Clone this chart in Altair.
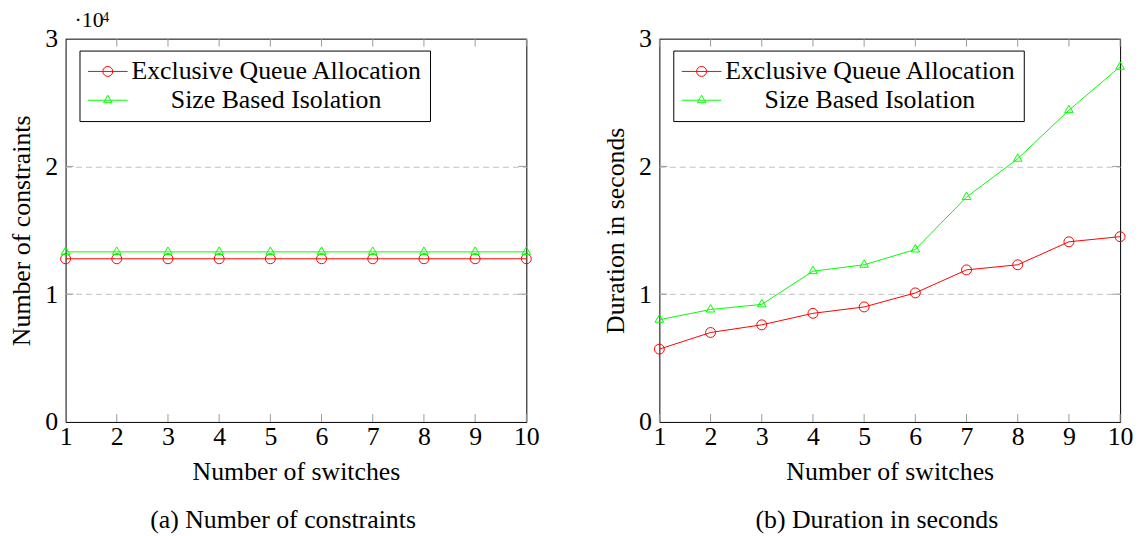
import altair as alt
import pandas as pd

# ---------------- data ----------------
switches = [1, 2, 3, 4, 5, 6, 7, 8, 9, 10]
series_names = ["Exclusive Queue Allocation", "Size Based Isolation"]
series_colors = ["#ff0000", "#00ff00"]

eqa_constraints = [12770, 12770, 12770, 12770, 12770, 12770, 12770, 12770, 12770, 12770]
sbi_constraints = [13310, 13310, 13310, 13310, 13310, 13310, 13310, 13310, 13310, 13310]

eqa_duration = [0.57, 0.70, 0.76, 0.85, 0.90, 1.01, 1.19, 1.23, 1.41, 1.45]
sbi_duration = [0.80, 0.88, 0.92, 1.18, 1.23, 1.35, 1.76, 2.06, 2.44, 2.78]

y_ticks_a = [0, 10000, 20000, 30000]
y_ticks_b = [0, 1, 2, 3]
inner_y_a = [10000, 20000]
inner_y_b = [1, 2]

x_title = "Number of switches"
y_titles = ["Number of constraints", "Duration in seconds"]
captions = ["(a) Number of constraints", "(b) Duration in seconds"]
exponent_base = "\u00b710"
exponent_power = "4"

# ---------------- style ----------------
FONT = "Liberation Serif"
FS = 26
W, H = 464, 386

TRI = "M0,-1L0.866,0.5L-0.866,0.5Z"
LEG_CIRC = "M-1,0L1,0M0.25,0A0.25,0.25,0,1,1,-0.25,0A0.25,0.25,0,1,1,0.25,0"
LEG_TRI = "M-1,0L1,0M0,-0.25L0.2165,0.125L-0.2165,0.125Z"


def make_df(a, b):
    rows = []
    for s, v in zip(switches, a):
        rows.append({"x": s, "y": v, "series": series_names[0]})
    for s, v in zip(switches, b):
        rows.append({"x": s, "y": v, "series": series_names[1]})
    return pd.DataFrame(rows)


def legend():
    return alt.Legend(
        title=None,
        orient="none",
        legendX=14,
        legendY=12,
        padding=8,
        fillColor="white",
        strokeColor="black",
        labelFont=FONT,
        labelFontSize=FS,
        labelColor="black",
        labelAlign="center",
        labelOffset=149,
        labelLimit=500,
        symbolSize=1600,
        symbolStrokeWidth=1,
        symbolFillColor="transparent",
        symbolOpacity=1,
        symbolType={"expr": "datum.value === '%s' ? '%s' : '%s'" % (series_names[0], LEG_CIRC, LEG_TRI)},
        symbolStrokeColor={"expr": "datum.value === '%s' ? '%s' : '%s'" % (series_names[0], series_colors[0], series_colors[1])},
        clipHeight=26,
        rowPadding=3,
    )


def panel(df, ymax, yticks, inner_y, label_expr, ytitle, caption, extra=None):
    xenc = alt.X(
        "x:Q",
        scale=alt.Scale(domain=[1, 10], nice=False, zero=False),
        axis=alt.Axis(
            values=switches, format="d", labelFont=FONT, labelFontSize=FS, labelColor="black",
            labelPadding=2, tickSize=0, domain=False, grid=False, labelFlush=False,
            title=x_title, titleFont=FONT, titleFontSize=FS, titleFontWeight="normal",
            titleColor="black", titlePadding=9,
        ),
    )
    yenc = alt.Y(
        "y:Q",
        scale=alt.Scale(domain=[0, ymax], nice=False, zero=True),
        axis=alt.Axis(
            values=yticks, labelExpr=label_expr, labelFont=FONT, labelFontSize=FS,
            labelColor="black", labelPadding=8, tickSize=0, domain=False,
            grid=True, gridDash=[6, 4], gridColor="#c0c0c0", gridWidth=1,
            gridOpacity={"condition": {"test": "datum.value <= 0 || datum.value >= %s" % ymax, "value": 0}, "value": 1},
            title=ytitle, titleFont=FONT, titleFontSize=FS, titleFontWeight="normal",
            titleColor="black", titlePadding=10,
        ),
    )
    cscale = alt.Scale(domain=series_names, range=series_colors)
    color = alt.Color("series:N", scale=cscale, legend=legend())
    lines = alt.Chart(df).mark_line(strokeWidth=1).encode(x=xenc, y=yenc, color=color)
    circ = alt.Chart(df).transform_filter(alt.datum.series == series_names[0]).mark_point(
        shape="circle", filled=False, size=100, strokeWidth=1, opacity=1
    ).encode(x="x:Q", y="y:Q", color=alt.Color("series:N"))
    tri = alt.Chart(df).transform_filter(alt.datum.series == series_names[1]).mark_point(
        shape=TRI, filled=False, size=100, strokeWidth=1, opacity=1
    ).encode(x="x:Q", y="y:Q", color=alt.Color("series:N"))
    tdf = pd.DataFrame({"x": switches})
    ydf = pd.DataFrame({"y": inner_y})
    tick_col = "#9a9a9a"
    top_t = alt.Chart(tdf).mark_rule(color=tick_col, strokeWidth=1).encode(x="x:Q", y=alt.value(0), y2=alt.value(8))
    bot_t = alt.Chart(tdf).mark_rule(color=tick_col, strokeWidth=1).encode(x="x:Q", y=alt.value(H - 8), y2=alt.value(H))
    lef_t = alt.Chart(ydf).mark_rule(color=tick_col, strokeWidth=1).encode(y="y:Q", x=alt.value(0), x2=alt.value(8))
    rig_t = alt.Chart(ydf).mark_rule(color=tick_col, strokeWidth=1).encode(y="y:Q", x=alt.value(W - 8), x2=alt.value(W))
    layers = [top_t, bot_t, lef_t, rig_t, lines, circ, tri]
    if extra:
        layers += extra
    return alt.layer(*layers).properties(
        width=W, height=H,
        title=alt.TitleParams(text=caption, orient="bottom", anchor="middle", font=FONT, fontSize=FS,
                              fontWeight="normal", color="black", offset=23, dx=-13),
    )


exp_df = pd.DataFrame({"b": [exponent_base], "p": [exponent_power]})
exp_base = alt.Chart(exp_df).mark_text(align="left", baseline="alphabetic", font=FONT, fontSize=22, color="black").encode(
    x=alt.value(9), y=alt.value(-12), text="b:N")
exp_pow = alt.Chart(exp_df).mark_text(align="left", baseline="alphabetic", font=FONT, fontSize=14, color="black").encode(
    x=alt.value(37), y=alt.value(-17), text="p:N")

left = panel(make_df(eqa_constraints, sbi_constraints), 30000, y_ticks_a, inner_y_a,
             "datum.value / 10000", y_titles[0], captions[0], [exp_base, exp_pow])
right = panel(make_df(eqa_duration, sbi_duration), 3, y_ticks_b, inner_y_b,
              "datum.value", y_titles[1], captions[1])

chart = alt.hconcat(left, right, spacing=134, bounds="flush").resolve_scale(
    color="independent", x="independent", y="independent"
).resolve_legend(color="independent").configure_view(
    stroke="black", strokeWidth=1
).properties(padding={"top": -2, "left": 0, "right": 0, "bottom": 0}, background="white")

chart.save("out.html", embed_options={"renderer": "svg", "actions": False})
